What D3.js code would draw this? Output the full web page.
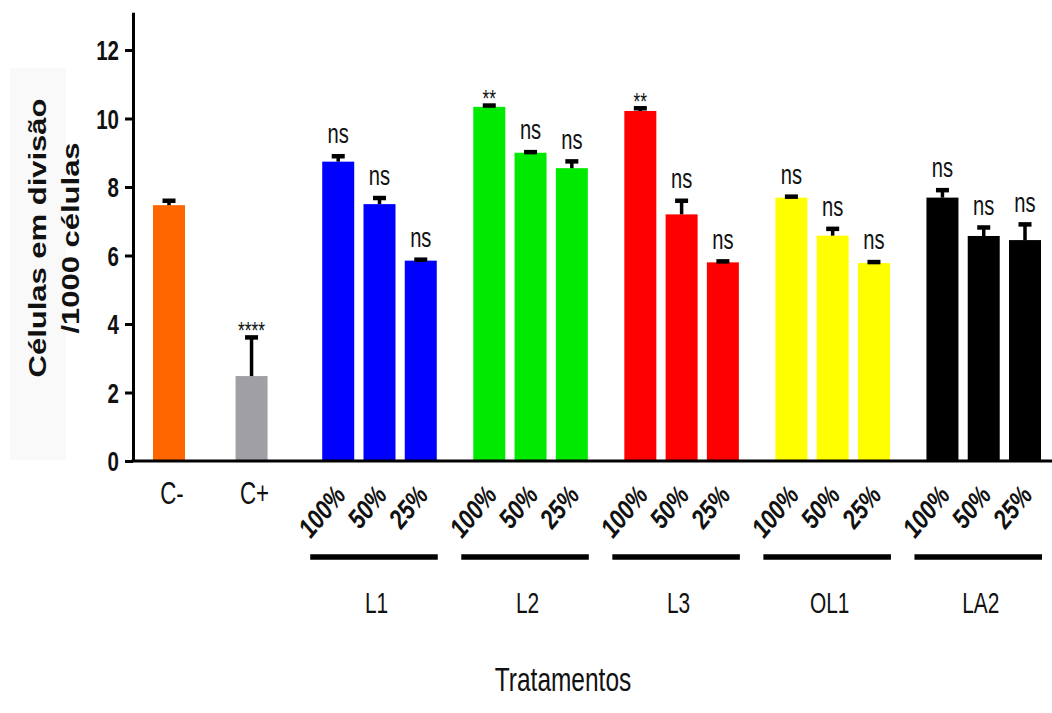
<!DOCTYPE html>
<html>
<head>
<meta charset="utf-8">
<script src="https://cdn.jsdelivr.net/npm/d3@7"></script>
<style>
  html, body { margin: 0; padding: 0; background: #fff; }
  svg { display: block; font-family: "Liberation Sans", Arial, sans-serif; }
</style>
</head>
<body>
<svg id="chart" width="1052" height="713"></svg>
<script>
// Dividing cells per 1000 cells, controls and treatments at three concentrations
const controls      = ["C-", "C+"];
const controlMeans  = [7.47, 2.48];
const controlErrors = [0.15, 1.15];
const controlMarks  = ["", "****"];
const controlColors = ["#ff6600", "#a0a0a4"];

const treatments      = ["L1", "L2", "L3", "OL1", "LA2"];
const doses           = ["100%", "50%", "25%"];
const treatmentColors = ["#0000ff", "#00ea00", "#ff0000", "#ffff00", "#000000"];

const l1Means  = [8.74, 7.50, 5.85];
const l2Means  = [10.34, 9.00, 8.55];
const l3Means  = [10.22, 7.20, 5.80];
const ol1Means = [7.69, 6.58, 5.78];
const la2Means = [7.69, 6.57, 6.45];

const l1Errors  = [0.18, 0.20, 0.05];
const l2Errors  = [0.06, 0.04, 0.22];
const l3Errors  = [0.10, 0.42, 0.05];
const ol1Errors = [0.05, 0.22, 0.05];
const la2Errors = [0.24, 0.27, 0.48];

const l1Marks  = ["ns", "ns", "ns"];
const l2Marks  = ["**", "ns", "ns"];
const l3Marks  = ["**", "ns", "ns"];
const ol1Marks = ["ns", "ns", "ns"];
const la2Marks = ["ns", "ns", "ns"];

const yTicks = [0, 2, 4, 6, 8, 10, 12];
const yTitle = ["Células em divisão", "/1000 células"];
const xTitle = "Tratamentos";

// ---- layout ----
const W = 1052, H = 713;
const axisX = 133, axisY = 461;
const barW = 32;
const squeeze = 0.72;          // horizontal condensing applied to all text

const svg = d3.select("#chart");
svg.append("rect").attr("width", W).attr("height", H).attr("fill", "#fff");
// light panel behind the y title
svg.append("rect").attr("x", 10).attr("y", 68).attr("width", 56).attr("height", 392).attr("fill", "#f9f9f9");

const y = d3.scaleLinear().domain([0, 13.1]).range([axisY, axisY - 13.1 * 34.25]);

// slot positions: controls at 0 and 2, treatment groups of three bars after them
const groupStart = 4.1, groupStep = 3.66;
const x = d3.scaleLinear().domain([0, groupStart + 4 * groupStep + 2]).range([169, 1025]);

const tMeans  = [l1Means, l2Means, l3Means, ol1Means, la2Means];
const tErrors = [l1Errors, l2Errors, l3Errors, ol1Errors, la2Errors];
const tMarks  = [l1Marks, l2Marks, l3Marks, ol1Marks, la2Marks];

const bars = [];
controls.forEach((c, i) => bars.push({
  slot: i * 2, mean: controlMeans[i], err: controlErrors[i], mark: controlMarks[i], color: controlColors[i]
}));
treatments.forEach((t, gi) => doses.forEach((d, di) => bars.push({
  slot: groupStart + gi * groupStep + di, group: gi, dose: d,
  mean: tMeans[gi][di], err: tErrors[gi][di], mark: tMarks[gi][di], color: treatmentColors[gi]
})));

const textCol = "#111";

// bars
svg.append("g").selectAll("rect").data(bars).join("rect")
  .attr("x", d => x(d.slot) - barW / 2)
  .attr("y", d => y(d.mean))
  .attr("width", barW)
  .attr("height", d => y(0) - y(d.mean))
  .attr("fill", d => d.color);

// error bars (upper half only)
const eb = svg.append("g").attr("fill", "#000").attr("stroke", "#000");
eb.selectAll("line").data(bars).join("line")
  .attr("x1", d => x(d.slot)).attr("x2", d => x(d.slot))
  .attr("y1", d => y(d.mean)).attr("y2", d => y(d.mean + d.err))
  .attr("stroke-width", 3.5);
eb.selectAll("rect").data(bars).join("rect")
  .attr("x", d => x(d.slot) - 6.5)
  .attr("y", d => y(d.mean + d.err) - 1.5)
  .attr("width", 13).attr("height", 4.5)
  .attr("stroke", "none");

// significance marks
svg.append("g").selectAll("text").data(bars.filter(d => d.mark)).join("text")
  .attr("transform", d => {
    const isStar = d.mark.startsWith("*");
    const by = isStar ? y(d.mean + d.err) + 2 : y(d.mean + d.err) - 12;
    return `translate(${x(d.slot)},${by}) scale(${squeeze},1)`;
  })
  .attr("text-anchor", "middle")
  .attr("font-size", d => d.mark.startsWith("*") ? 24 : 28)
  .attr("fill", textCol)
  .text(d => d.mark);

// axes
const yAxis = d3.axisLeft(y).tickValues(yTicks).tickSize(8).tickSizeOuter(0);
const gy = svg.append("g").attr("transform", `translate(${axisX},0)`).call(yAxis);
gy.select(".domain").attr("stroke", "#000").attr("stroke-width", 3);
gy.selectAll(".tick line").attr("stroke", "#000").attr("stroke-width", 3);
gy.selectAll(".tick text")
  .attr("x", null).attr("dy", null)
  .attr("transform", `translate(-14,9.5) scale(0.76,1)`)
  .attr("font-size", 27).attr("font-weight", "bold")
  .attr("font-family", "'Liberation Sans', Arial, sans-serif")
  .attr("fill", textCol);

svg.append("line")
  .attr("x1", axisX - 1.5).attr("x2", W)
  .attr("y1", axisY).attr("y2", axisY)
  .attr("stroke", "#000").attr("stroke-width", 3);

// control labels
svg.append("g").selectAll("text").data(bars.filter(d => d.group === undefined)).join("text")
  .attr("transform", (d, i) => `translate(${x(d.slot) + 3},504) scale(${squeeze},1)`)
  .attr("text-anchor", "middle").attr("font-size", 31).attr("fill", textCol)
  .text((d, i) => controls[i]);

// dose labels, slanted
svg.append("g").selectAll("text").data(bars.filter(d => d.group !== undefined)).join("text")
  .attr("transform", d => `translate(${x(d.slot) + 9},496) rotate(-50) scale(0.82,1)`)
  .attr("text-anchor", "end").attr("font-size", 27)
  .attr("font-weight", "bold").attr("font-style", "italic").attr("fill", textCol)
  .text(d => d.dose);

// group underlines and names
const gg = svg.append("g");
treatments.forEach((t, gi) => {
  const first = x(groupStart + gi * groupStep), last = x(groupStart + gi * groupStep + 2);
  gg.append("line")
    .attr("x1", first - 28).attr("x2", last + 17)
    .attr("y1", 557).attr("y2", 557)
    .attr("stroke", "#000").attr("stroke-width", 5.5);
  gg.append("text")
    .attr("transform", `translate(${(first + last) / 2 - 3},613) scale(${squeeze},1)`)
    .attr("text-anchor", "middle").attr("font-size", 29).attr("fill", textCol)
    .text(t);
});

// axis titles
svg.append("text")
  .attr("transform", `translate(563,691) scale(${squeeze},1)`)
  .attr("text-anchor", "middle").attr("font-size", 34).attr("fill", textCol)
  .text(xTitle);

yTitle.forEach((line, i) => {
  svg.append("text")
    .attr("transform", `translate(${46 + i * 33},238) scale(0.78,1) rotate(-90)`)
    .attr("text-anchor", "middle").attr("font-size", 31)
    .attr("font-weight", "bold").attr("fill", textCol)
    .text(line);
});
</script>
</body>
</html>
